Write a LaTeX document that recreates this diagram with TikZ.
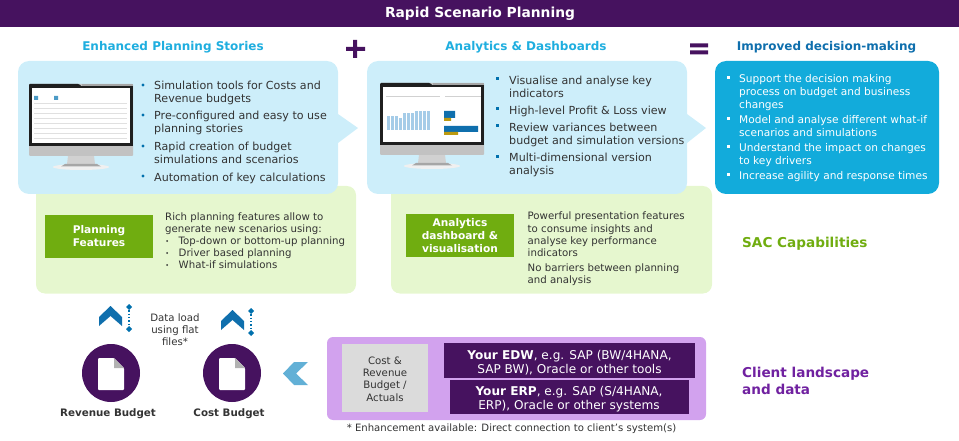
\documentclass[tikz,border=0pt]{standalone}
\usepackage{fontspec}
\usetikzlibrary{calc}
\setmainfont{DejaVu Sans}
\definecolor{darkplum}{HTML}{46125F}
\definecolor{paleblue}{HTML}{CDEEFA}
\definecolor{skyblue}{HTML}{12ABDB}
\definecolor{titleblue}{HTML}{1FAEDF}
\definecolor{deepblue}{HTML}{0F6FAD}
\definecolor{palegreen}{HTML}{E6F7CF}
\definecolor{leafgreen}{HTML}{70AD10}
\definecolor{lilac}{HTML}{D2A2EE}
\definecolor{bulletblue}{HTML}{0070AD}
\definecolor{arrowblue}{HTML}{62B0D6}
\definecolor{bodygray}{HTML}{333333}
\definecolor{clientplum}{HTML}{7021A0}
\definecolor{chartblue}{HTML}{A5CCE8}
\definecolor{chartgold}{HTML}{BC9A10}
\newcommand{\bodysize}{\fontsize{11.1}{13.1}\selectfont}
\newcommand{\smallsize}{\fontsize{10.2}{12.2}\selectfont}
\tikzset{
  headline/.style={font=\fontsize{12}{14}\selectfont\bfseries, text=titleblue},
  bodytext/.style={font=\bodysize, text=bodygray, align=left, anchor=north west, inner sep=0pt},
  outcometext/.style={font=\fontsize{10.6}{12.8}\selectfont, text=white, align=left, anchor=north west, inner sep=0pt},
  smalltext/.style={font=\smallsize, text=bodygray, align=left, anchor=north west, inner sep=0pt},
  greenhead/.style={fill=leafgreen, text=white, font=\fontsize{10.6}{12.6}\selectfont\bfseries, align=center, inner sep=0pt},
  plumtext/.style={text=white, font=\fontsize{12.1}{14}\selectfont, align=center, inner sep=0pt},
  sidelabel/.style={font=\fontsize{13.6}{17}\selectfont\bfseries, align=left, anchor=west, inner sep=0pt},
  budgetlabel/.style={font=\fontsize{10.3}{12}\selectfont\bfseries, text=bodygray, inner sep=0pt},
  disc/.style={circle, fill=darkplum, minimum size=58pt, inner sep=0pt},
}
% screen with stand, shifted to the top left corner of the bezel
\newcommand{\monitor}[1]{
  \begin{scope}[shift={(#1)}]
    \fill[black!6] (52,83) ellipse (28 and 3);
    \fill[black!18] (39,72) -- (65,72) -- (66,80) -- (38,80) -- cycle;
    \fill[black!35] (36,80) -- (68,80) -- (72,82.5) -- (32,82.5) -- cycle;
    \fill[black!24, rounded corners=1pt] (0,0) rectangle (104,72);
    \fill[black!88, rounded corners=1pt] (0,0) -- (50,0) -- (53,3) -- (0,3) -- cycle;
    \fill[black!88] (0,2) rectangle (104,62);
    \fill[black!35] (53,0) -- (104,0) -- (104,2) -- (53,2) -- cycle;
    \fill[white] (3,4) rectangle (101,59);
  \end{scope}
}
\begin{document}
\begin{tikzpicture}[x=1pt,y=-1pt]
  \useasboundingbox (0,0) rectangle (959,441);
  %% title bar
  \node[fill=darkplum, minimum width=959pt, minimum height=26.5pt, inner sep=0pt, anchor=north west] (titlebar) at (0,0) {};
  \node[text=white, font=\fontsize{13.8}{16}\selectfont\bfseries] (titletext) at (480,13.5) {Rapid Scenario Planning};
  %% section headings
  \node[headline] (storieshead) at (173,47.5) {Enhanced Planning Stories};
  \node[headline] (analyticshead) at (526,47.5) {Analytics \& Dashboards};
  \node[headline, text=deepblue] (improvedhead) at (826.5,47.5) {Improved decision-making};
  %% plus and equals
  \fill[darkplum] (353,40) rectangle (357,58) (346,47) rectangle (365,51);
  \fill[darkplum] (690,43.5) rectangle (708,47.5) (690,50.5) rectangle (708,54.5);
  %% green panels go underneath
  \fill[palegreen, rounded corners=9pt] (36,186) rectangle (356,293.5);
  \fill[palegreen, rounded corners=9pt] (391,186) rectangle (712,293.5);
  %% blue panels
  \fill[paleblue, rounded corners=11pt] (18,61) rectangle (338,194);
  \fill[paleblue] (338,114) -- (358,128) -- (338,143) -- cycle;
  \fill[paleblue, rounded corners=11pt] (367,61) rectangle (687,194);
  \fill[paleblue] (687,114) -- (706,128) -- (687,143) -- cycle;
  \fill[skyblue, rounded corners=11pt] (715,61) rectangle (939,194);
  %% monitors
  \monitor{29,84}
  \monitor{380,83}
  %% first screen, a table
  \foreach \y in {103,108,113,118,123,128,133,138} \draw[black!12, line width=.7pt] (34,\y) -- (127,\y);
  \fill[bulletblue!70] (34,96) rectangle (38,100) (54,96) rectangle (58,100);
  %% second screen, a chart
  \draw[black!18, line width=1pt] (386,97) -- (440,97) (445,97) -- (481,97);
  \foreach \x/\y in {387/116,391/116,395/116,399/118,403/113,407/113,411/113,415/111,419/111,423/111,427/111}
    \fill[chartblue] (\x,\y) rectangle (\x+3,130);
  \fill[deepblue] (444,111) rectangle (455,118) (444,126) rectangle (478,132);
  \fill[chartgold] (444,118) rectangle (451,121) (444,132) rectangle (458,135);
  %% story bullets
  \node[bodytext] (storiestext) at (154,81) {Simulation tools for Costs and\\Revenue budgets};
  \node[bodytext] (storiestextb) at (154,111) {Pre-configured and easy to use\\planning stories};
  \node[bodytext] (storiestextc) at (154,142) {Rapid creation of budget\\simulations and scenarios};
  \node[bodytext] (storiestextd) at (154,172.5) {Automation of key calculations};
  \foreach \y in {85,115,146,176} \fill[bulletblue] (143,\y) circle (1.6);
  %% analytics bullets
  \node[bodytext] (analyticstext) at (509,75.5) {Visualise and analyse key\\indicators};
  \node[bodytext] (analyticstextb) at (509,105.5) {High-level Profit \& Loss view};
  \node[bodytext] (analyticstextc) at (509,122.5) {Review variances between\\budget and simulation versions};
  \node[bodytext] (analyticstextd) at (509,153) {Multi-dimensional version\\analysis};
  \foreach \y in {79,109,126,157} \fill[bulletblue] (496,\y-1.5) rectangle (499,\y+1.5);
  %% outcome bullets
  \node[outcometext] (improvedtext) at (739,74.5) {Support the decision making\\process on budget and business\\changes};
  \node[outcometext] (improvedtextb) at (739,115) {Model and analyse different what-if\\scenarios and simulations};
  \node[outcometext] (improvedtextc) at (739,143) {Understand the impact on changes\\to key drivers};
  \node[outcometext] (improvedtextd) at (739,171) {Increase agility and response times};
  \foreach \y in {78,119,147,175} \fill[white] (727,\y-1.5) rectangle (730,\y+1.5);
  %% green capability boxes
  \node[greenhead, minimum width=108pt, minimum height=43pt] (planningbox) at (99,236) {Planning\\Features};
  \node[greenhead, minimum width=108pt, minimum height=43pt] (analysisbox) at (460,235.5) {Analytics\\dashboard \&\\visualisation};
  \node[smalltext] (planningtext) at (165,212.5) {Rich planning features allow to\\generate new scenarios using:};
  \node[smalltext] (planninglist) at (178.5,236.5) {Top-down or bottom-up planning\\Driver based planning\\What-if simulations};
  \foreach \y in {241,253,265} \fill[bodygray] (167,\y) circle (1);
  \node[smalltext] (analysistext) at (527.5,212) {Powerful presentation features\\to consume insights and\\analyse key performance\\indicators};
  \node[smalltext] (analysistextb) at (527.5,263.5) {No barriers between planning\\and analysis};
  %% side labels
  \node[sidelabel, text=leafgreen] (saclabel) at (742,244) {SAC Capabilities};
  \node[sidelabel, text=clientplum] (clientlabel) at (742,380.5) {Client landscape\\and data};
  %% client data block
  \fill[lilac, rounded corners=6pt] (327,337) rectangle (706,420);
  \fill[black!14] (342,344) rectangle (428,412);
  \node[font=\smallsize, text=bodygray, align=center, inner sep=0pt] (costbox) at (385,379) {Cost \&\\Revenue\\Budget /\\Actuals};
  \fill[darkplum] (444,343) rectangle (695,378);
  \node[plumtext] (edwbar) at (569.5,362.5) {\textbf{Your EDW}, e.g. SAP (BW/4HANA,\\SAP BW), Oracle or other tools};
  \fill[darkplum] (450,380) rectangle (688.5,414);
  \node[plumtext] (erpbar) at (569,399.5) {\textbf{Your ERP}, e.g. SAP (S/4HANA,\\ERP), Oracle or other systems};
  \node[font=\fontsize{10.1}{12}\selectfont, text=bodygray, inner sep=0pt] (footnote) at (511.5,429) {* Enhancement available: Direct connection to client's system(s)};
  %% budget discs
  \node[disc] (revenuedisc) at (111,373) {};
  \node[disc] (costdisc) at (232,373) {};
  \foreach \d in {revenuedisc,costdisc} {
    \fill[white, rounded corners=1pt] ($(\d)+(-13,-15)$) -- ($(\d)+(3,-15)$) -- ($(\d)+(13,-5)$) -- ($(\d)+(13,17)$) -- ($(\d)+(-13,17)$) -- cycle;
    \fill[black!30] ($(\d)+(3,-15)$) -- ($(\d)+(13,-5)$) -- ($(\d)+(3,-5)$) -- cycle;
  }
  \node[budgetlabel] (revenuelabel) at (108,413.5) {Revenue Budget};
  \node[budgetlabel] (costlabel) at (229,413.5) {Cost Budget};
  \node[smalltext, align=center, anchor=center] (loadtext) at (175,329.5) {Data load\\using flat\\files*};
  %% upload icons
  \foreach \x/\y in {99/306,221/310} {
    \fill[deepblue] (\x,\y+11) -- (\x+11.5,\y) -- (\x+23,\y+11) -- (\x+23,\y+20) -- (\x+11.5,\y+10) -- (\x,\y+20) -- cycle;
    \draw[bulletblue, line width=1.3pt, dotted] (\x+30,\y+1) -- (\x+30,\y+22);
    \fill[bulletblue] (\x+30,\y-2) -- (\x+33,\y+1) -- (\x+30,\y+4) -- (\x+27,\y+1) -- cycle;
    \fill[bulletblue] (\x+30,\y+20) -- (\x+33,\y+23) -- (\x+30,\y+26) -- (\x+27,\y+23) -- cycle;
  }
  %% chevron from the client block to the budgets
  \fill[arrowblue] (283,373.5) -- (294,362) -- (308,362) -- (296,373.5) -- (308,385) -- (294,385) -- cycle;
\end{tikzpicture}
\end{document}
